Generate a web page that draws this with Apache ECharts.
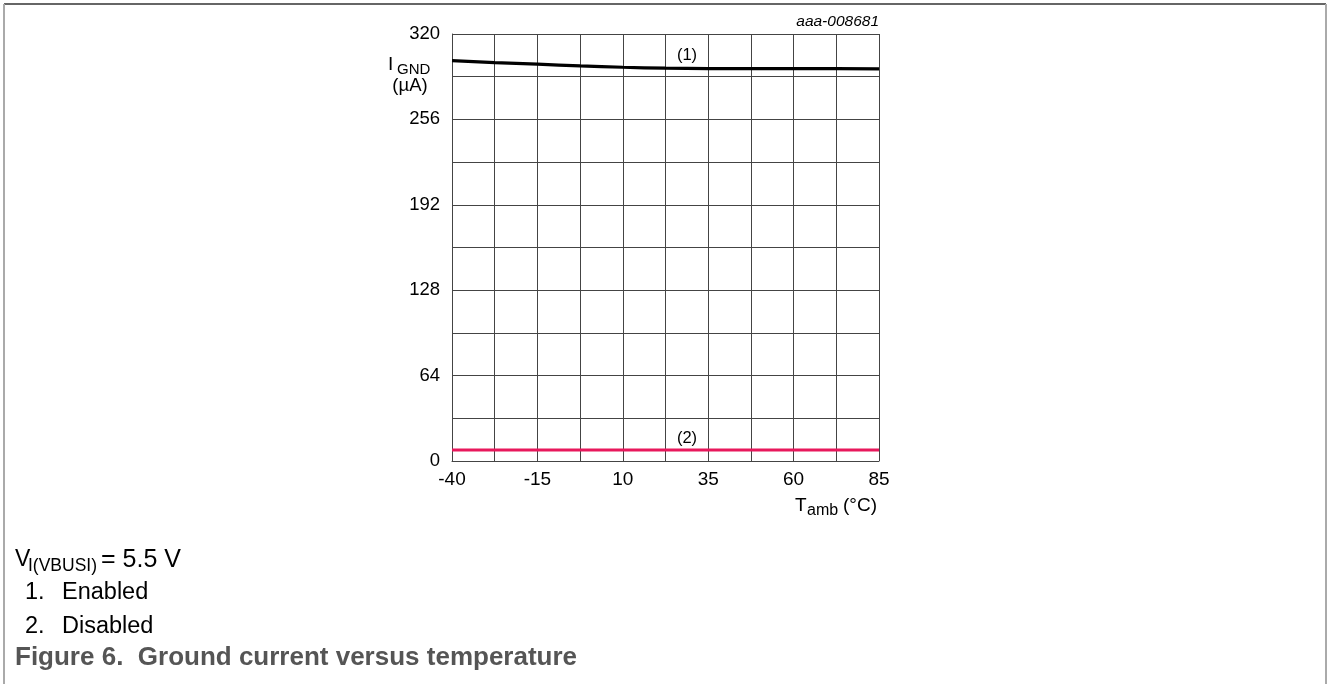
<!DOCTYPE html>
<html>
<head>
<meta charset="utf-8">
<script src="https://cdn.jsdelivr.net/npm/echarts@6/dist/echarts.min.js"></script>
<style>
html,body{margin:0;padding:0;background:#fff;}
#c{width:1328px;height:684px;}
</style>
</head>
<body>
<div id="c"></div>
<script>
// Data
const temps = [-40, -27.5, -15, -2.5, 10, 22.5, 35, 47.5, 60, 72.5, 85];
const enabled = [300, 298.6, 297.4, 296.1, 295.1, 294.4, 294.1, 294, 294, 294, 293.9];
const disabled = [8.2, 8.2, 8.2, 8.2, 8.2, 8.2, 8.2, 8.2, 8.2, 8.2, 8.2];
const xTickLabels = [-40, -15, 10, 35, 60, 85];
const yTickLabels = [0, 64, 128, 192, 256, 320];
const X_OFFSET = 40; // axis runs 0..125 so grid interval 12.5 starts at min

const FONT = '"Liberation Sans", Arial, Helvetica, sans-serif';
const chart = echarts.init(document.getElementById('c'));

function txt(x, y, text, size, opts) {
  opts = opts || {};
  return {
    type: 'text', x: x, y: y, silent: true,
    style: {
      text: text, fontSize: size, fontFamily: FONT,
      fontWeight: opts.weight || 'normal', fontStyle: opts.style || 'normal',
      fill: opts.color || '#000', align: opts.align || 'left',
      verticalAlign: opts.va || 'middle'
    }
  };
}

const gridColor = '#444';

chart.setOption({
  animation: false,
  grid: { left: 452, right: 449, top: 34, bottom: 223, containLabel: false },
  xAxis: {
    type: 'value', min: 0, max: 125, interval: 12.5,
    axisLine: { show: true, lineStyle: { color: gridColor, width: 1 } },
    axisTick: { show: false },
    splitLine: { show: true, lineStyle: { color: gridColor, width: 1 } },
    axisLabel: {
      margin: 9, fontSize: 19, fontFamily: FONT, color: '#000',
      formatter: function (v) {
        const t = v - X_OFFSET;
        return xTickLabels.indexOf(t) >= 0 ? String(t) : '';
      }
    }
  },
  yAxis: {
    type: 'value', min: 0, max: 320, interval: 32,
    axisLine: { show: true, lineStyle: { color: gridColor, width: 1 } },
    axisTick: { show: false },
    splitLine: { show: true, lineStyle: { color: gridColor, width: 1 } },
    axisLabel: {
      margin: 12, fontSize: 18.5, fontFamily: FONT, color: '#000',
      formatter: function (v) { return yTickLabels.indexOf(v) >= 0 ? String(v) : ''; }
    }
  },
  series: [
    {
      type: 'line', name: 'Enabled', smooth: true, symbol: 'none',
      lineStyle: { color: '#000', width: 3.2 },
      data: temps.map((t, i) => [t + X_OFFSET, enabled[i]])
    },
    {
      type: 'line', name: 'Disabled', smooth: false, symbol: 'none',
      lineStyle: { color: '#e8185c', width: 3 },
      data: temps.map((t, i) => [t + X_OFFSET, disabled[i]])
    }
  ],
  graphic: [
    // frame
    { type: 'line', silent: true, shape: { x1: 4, y1: 4, x2: 1326, y2: 4 }, style: { stroke: '#333', lineWidth: 1.5 } },
    { type: 'line', silent: true, shape: { x1: 4, y1: 4, x2: 4, y2: 684 }, style: { stroke: '#aaa', lineWidth: 2 } },
    { type: 'line', silent: true, shape: { x1: 1326, y1: 4, x2: 1326, y2: 684 }, style: { stroke: '#aaa', lineWidth: 2 } },
    // figure id
    txt(879, 22, 'aaa-008681', 15.5, { align: 'right', style: 'italic' }),
    // y axis title
    txt(388, 65, 'I', 19),
    txt(397, 70, 'GND', 15),
    txt(410, 86, '(µA)', 18.5, { align: 'center' }),
    // x axis title
    txt(795, 506, 'T', 19),
    txt(807, 511, 'amb', 16),
    txt(877, 506, '(°C)', 19, { align: 'right' }),
    // series labels
    txt(687, 55, '(1)', 16.5, { align: 'center' }),
    txt(687, 438, '(2)', 16.5, { align: 'center' }),
    // notes
    txt(15, 560, 'V', 23),
    txt(28, 566, 'I(VBUSI)', 17.5),
    txt(101, 560, '= 5.5 V', 25), 
    txt(25, 593, '1.', 23.5),
    txt(62, 593, 'Enabled', 23.5),
    txt(25, 627, '2.', 23.5),
    txt(62, 627, 'Disabled', 23.5),
    txt(15, 658, 'Figure 6.  Ground current versus temperature', 26, { weight: 'bold', color: '#555' })
  ]
});
</script>
</body>
</html>
